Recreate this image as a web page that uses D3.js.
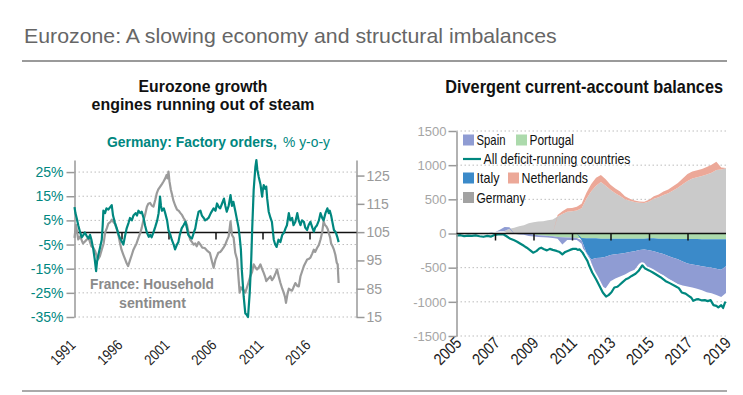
<!DOCTYPE html>
<html>
<head>
<meta charset="utf-8">
<script src="https://cdn.jsdelivr.net/npm/d3@7"></script>
<style>
  body { margin: 0; background: #fff; }
  svg { display: block; }
  text { font-family: "Liberation Sans", Arial, sans-serif; }
</style>
</head>
<body>
<svg id="chart" width="743" height="395"></svg>
<script>
// ---- left panel: Germany factory orders (% y-o-y) and France household sentiment
const FACTORY_ORDERS = [
  [1991.0, 10.5], [1991.1, 8], [1991.23, 6], [1991.4, 3], [1991.6, 0], [1991.77, -2], [1991.95, -1],
  [1992.1, 0], [1992.3, -1.5], [1992.5, -2.5], [1992.65, -1], [1992.8, -3], [1993.0, -7], [1993.15, -11],
  [1993.3, -16], [1993.4, -12], [1993.5, -10], [1993.7, -6.5], [1993.9, -3], [1994.0, 3], [1994.07, 9],
  [1994.25, 8], [1994.4, 10], [1994.6, 9.5], [1994.8, 10.5], [1994.96, 11.3], [1995.1, 7], [1995.3, 4],
  [1995.5, 1.7], [1995.7, -1], [1995.85, -2.5], [1996.0, -3.5], [1996.2, -5], [1996.4, -1], [1996.55, 1.7],
  [1996.75, 4], [1996.9, 6], [1997.1, 5], [1997.27, 7], [1997.5, 8], [1997.65, 7], [1997.8, 9], [1998.0, 8],
  [1998.15, 8.6], [1998.35, 6], [1998.5, 3], [1998.7, 0], [1998.9, -1.8], [1999.05, -1], [1999.2, -2],
  [1999.4, 0], [1999.6, 2.4], [1999.8, 5], [1999.95, 8], [2000.1, 14.8], [2000.2, 11], [2000.3, 9],
  [2000.5, 10], [2000.65, 8], [2000.85, 5], [2001.0, 1], [2001.2, -1], [2001.35, -3], [2001.55, -5],
  [2001.7, -7], [2001.9, -5], [2002.05, -4], [2002.2, -1], [2002.4, 1.7], [2002.6, 3], [2002.8, 4.4],
  [2002.95, 2], [2003.1, -1], [2003.3, -2], [2003.5, -2.5], [2003.7, 0], [2003.85, 1.7], [2004.0, 5],
  [2004.2, 8.6], [2004.4, 9], [2004.55, 7], [2004.75, 6], [2004.9, 5], [2005.1, 5.5], [2005.26, 6],
  [2005.5, 8], [2005.8, 10], [2006.0, 9], [2006.16, 12], [2006.35, 10.5], [2006.5, 10], [2006.7, 12],
  [2006.9, 14], [2007.05, 11], [2007.2, 8.6], [2007.4, 11], [2007.6, 15.5], [2007.75, 11], [2007.9, 12.7],
  [2008.1, 9], [2008.3, 5], [2008.45, 2], [2008.57, -1.8], [2008.7, -7], [2008.8, -15.5], [2009.0, -26.6],
  [2009.17, -33.5], [2009.3, -34], [2009.46, -35], [2009.64, -25], [2009.8, -11.4], [2009.9, 1],
  [2010.06, 17.5], [2010.24, 27], [2010.35, 30], [2010.45, 26], [2010.6, 23], [2010.78, 20], [2010.96, 14.8],
  [2011.05, 18], [2011.13, 19.6], [2011.3, 18], [2011.4, 19], [2011.5, 14], [2011.66, 8.6], [2011.85, 6],
  [2012.0, 4.4], [2012.2, -3], [2012.35, -5], [2012.5, -6], [2012.7, -3], [2012.9, -4], [2013.1, -1],
  [2013.3, 0], [2013.45, 1.7], [2013.6, 3], [2013.8, 8], [2013.95, 5], [2014.15, 6], [2014.3, 3],
  [2014.5, 4.4], [2014.7, 8], [2014.85, 5], [2015.04, 3], [2015.2, 5], [2015.4, 4.4], [2015.55, 2],
  [2015.75, 1], [2015.9, 3], [2016.1, 4.4], [2016.3, 2], [2016.46, 0.3], [2016.6, 2], [2016.8, 3],
  [2017.0, 5], [2017.17, 8], [2017.35, 6], [2017.5, 5], [2017.7, 8], [2017.9, 10], [2018.05, 8],
  [2018.16, 9], [2018.3, 7], [2018.4, 5], [2018.6, 1], [2018.8, 0], [2018.95, -1.8], [2019.1, -4]
];

const HOUSEHOLD_SENTIMENT = [
  [1991.0, 103], [1991.15, 107.6], [1991.4, 102.4], [1991.6, 103.5], [1991.9, 101], [1992.2, 102],
  [1992.5, 103], [1992.8, 100], [1993.0, 99.5], [1993.2, 98.2], [1993.5, 95.3], [1993.7, 96.5],
  [1993.9, 98.8], [1994.1, 101], [1994.25, 104.7], [1994.45, 106.5], [1994.6, 108], [1994.8, 108.5],
  [1994.96, 109.4], [1995.15, 108.5], [1995.3, 108], [1995.5, 106], [1995.67, 104], [1995.85, 101],
  [1996.0, 98.8], [1996.2, 97], [1996.4, 95.3], [1996.55, 94], [1996.7, 93], [1996.9, 95], [1997.1, 97],
  [1997.27, 98.8], [1997.45, 100], [1997.6, 101], [1997.8, 103], [1998.0, 104.7], [1998.15, 106.5],
  [1998.3, 108.8], [1998.5, 111], [1998.7, 114], [1998.85, 115], [1999.05, 115.3], [1999.2, 114.5],
  [1999.4, 114], [1999.6, 116.5], [1999.76, 118.8], [1999.9, 120], [2000.1, 121], [2000.3, 122],
  [2000.47, 122.9], [2000.65, 124], [2000.8, 125.2], [2000.9, 124], [2001.0, 126.4], [2001.1, 123],
  [2001.25, 120], [2001.4, 118], [2001.5, 116.4], [2001.7, 114.5], [2001.9, 113], [2002.1, 112.5],
  [2002.25, 111.8], [2002.45, 111], [2002.6, 110], [2002.8, 109], [2002.96, 107.6], [2003.15, 104.5],
  [2003.3, 102.4], [2003.5, 101.5], [2003.67, 100.6], [2003.85, 101], [2004.0, 100], [2004.2, 101.5],
  [2004.4, 100.6], [2004.6, 99.5], [2004.85, 99.4], [2005.1, 98.5], [2005.4, 97.7], [2005.6, 95],
  [2005.8, 92.4], [2006.0, 95.3], [2006.15, 96.5], [2006.3, 97.7], [2006.5, 98], [2006.7, 98.8],
  [2006.85, 99.5], [2007.04, 100.6], [2007.2, 102], [2007.4, 103.5], [2007.6, 108.8], [2007.75, 104],
  [2007.93, 103], [2008.1, 97.7], [2008.3, 95.3], [2008.46, 88.3], [2008.57, 83.6], [2008.7, 85.5],
  [2008.8, 84.8], [2009.0, 84.5], [2009.17, 83.6], [2009.35, 85.5], [2009.5, 87.1], [2009.7, 89.4],
  [2009.9, 91], [2010.06, 93.6], [2010.25, 92.5], [2010.42, 91.8], [2010.6, 92.5], [2010.78, 93.6],
  [2010.95, 92], [2011.13, 90.6], [2011.3, 89], [2011.4, 87.7], [2011.6, 88.5], [2011.85, 89.4],
  [2012.0, 88], [2012.2, 88.9], [2012.4, 90.5], [2012.55, 91.8], [2012.75, 89], [2012.9, 87.1],
  [2013.1, 85], [2013.26, 83.6], [2013.4, 82], [2013.5, 80], [2013.65, 83], [2013.8, 85], [2014.0, 84.5],
  [2014.15, 84.3], [2014.3, 85.5], [2014.5, 87], [2014.7, 86], [2014.86, 85.8], [2015.04, 89.4],
  [2015.2, 91], [2015.4, 93], [2015.55, 94], [2015.75, 95.3], [2015.9, 95.5], [2016.1, 96], [2016.3, 97.5],
  [2016.46, 98.8], [2016.6, 98], [2016.8, 99.4], [2017.0, 100.5], [2017.17, 102.4], [2017.35, 105],
  [2017.5, 108.8], [2017.65, 107.5], [2017.8, 107], [2017.95, 106], [2018.05, 104.7], [2018.2, 103],
  [2018.3, 101], [2018.45, 100], [2018.6, 98.8], [2018.75, 97], [2018.9, 94.2], [2019.0, 93.6],
  [2019.05, 90], [2019.1, 87]
];

const LEFT_TICKS = [25, 15, 5, -5, -15, -25, -35];
const RIGHT_TICKS = [125, 115, 105, 95, 85, 75];
const RIGHT_TICK_LABELS = ['125', '115', '105', '95', '85', '15'];
const LEFT_YEARS = [1991, 1996, 2001, 2006, 2011, 2016];

// ---- right panel: balances (EUR bn), quarterly from 2005
const CA_QUARTERS = d3.range(57).map(i => 2005 + i / 4);
const GERMANY = [0, 0, 0, 0, 0, 0, 0, 0, 5, 15, 35, 70, 85, 105, 120, 150, 165, 175, 180, 195, 205, 250, 285, 320,
  325, 335, 370, 510, 620, 700, 755, 700, 640, 590, 550, 500, 480, 460, 450, 445, 470, 510, 530, 565,
  590, 630, 670, 720, 770, 805, 825, 840, 865, 890, 930, 935, 955];
const NETHERLANDS = [0, 0, 0, 0, 0, 0, 0, 0, 0, 0, 0, 0, 0, 0, 0, 0, 0, 0, 0, 0, 0, 20, 40, 50,
  50, 55, 65, 85, 105, 115, 100, 95, 75, 70, 65, 45, 30, 22, 18, 20, 25, 35, 40, 50,
  55, 62, 70, 85, 100, 102, 100, 105, 110, 115, 120, 30, 5];
const PORTUGAL = [0, 0, 0, 0, 0, 0, 0, 0, 0, 0, 0, 0, 0, 0, 0, -5, -15, -25, -30, -35, -40, -50, -55, -60,
  -60, -65, -65, -70, -70, -70, -75, -75, -75, -75, -75, -75, -75, -75, -75, -75, -70, -70, -75, -75,
  -75, -80, -80, -80, -80, -80, -80, -85, -85, -85, -85, -85, -85];
const ITALY = [0, 0, 0, 0, 0, 0, 0, 0, 0, 0, 0, 0, 0, 0, 0, 0, 0, 0, 0, 0, 0, 0, 0, 0,
  0, 0, -35, -210, -310, -290, -280, -265, -240, -230, -220, -210, -195, -183, -165, -160, -175, -190, -205, -225,
  -255, -275, -298, -330, -360, -375, -385, -393, -405, -415, -430, -445, -395];
const SPAIN = [-5, -10, 5, -10, 5, -8, 0, 10, 15, 40, 60, 20, -5, -15, -20, -30, -30, -25, -25, -25, -25, -25, -105, -35,
  -35, -30, -50, -100, -120, -310, -415, -460, -385, -355, -335, -315, -290, -272, -200, -225, -265, -285, -300, -310,
  -330, -345, -362, -350, -335, -335, -345, -352, -370, -375, -385, -400, -390];

const ALL_DEFICIT = [
  [2005.0, -30], [2005.2, -25], [2005.4, -39], [2005.6, -30], [2005.8, -35], [2006.0, -28], [2006.2, -40],
  [2006.4, -48], [2006.6, -35], [2006.8, -45], [2007.0, -20], [2007.15, -15], [2007.3, -12], [2007.45, -15],
  [2007.6, -40], [2007.8, -78], [2008.0, -100], [2008.15, -120], [2008.3, -146], [2008.5, -180],
  [2008.65, -208], [2008.8, -240], [2008.98, -281], [2009.15, -258], [2009.3, -220], [2009.4, -208],
  [2009.55, -230], [2009.7, -247], [2009.85, -225], [2010.0, -240], [2010.2, -255], [2010.36, -272],
  [2010.5, -306], [2010.65, -270], [2010.9, -240], [2011.05, -225], [2011.2, -223], [2011.3, -240],
  [2011.4, -233], [2011.55, -280], [2011.65, -330], [2011.8, -400], [2011.9, -476], [2012.05, -570],
  [2012.25, -670], [2012.45, -780], [2012.6, -863], [2012.77, -922], [2012.9, -902], [2013.05, -860],
  [2013.2, -790], [2013.35, -780], [2013.45, -757], [2013.6, -720], [2013.8, -670], [2013.95, -650],
  [2014.1, -621], [2014.3, -590], [2014.45, -549], [2014.65, -466], [2014.8, -514], [2015.0, -540],
  [2015.2, -570], [2015.35, -597], [2015.6, -640], [2015.85, -694], [2016.1, -730], [2016.4, -776],
  [2016.55, -800], [2016.7, -863], [2016.9, -880], [2017.06, -912], [2017.2, -940], [2017.3, -985],
  [2017.45, -965], [2017.57, -961], [2017.75, -980], [2017.9, -975], [2018.05, -990], [2018.2, -975],
  [2018.35, -1048], [2018.5, -1060], [2018.6, -1082], [2018.75, -1050], [2018.85, -1090], [2018.95, -1009],
  [2019.0, -1020]
];

const CA_TICKS = [1500, 1000, 500, 0, -500, -1000, -1500];
const CA_YEARS = [2005, 2007, 2009, 2011, 2013, 2015, 2017, 2019];

const COUNTRY_KEYS = ['Germany', 'Netherlands', 'Portugal', 'Italy', 'Spain'];
const COUNTRY_COLORS = {
  Germany: '#cacaca',
  Netherlands: '#eca898',
  Portugal: '#acdaac',
  Italy: '#3b8ac9',
  Spain: '#8f9cd3'
};
const TEAL = '#00877f';

const svg = d3.select('#chart');

// condensed look: real text squeezed horizontally to the width it has in the reference
function squeezed(parent, str, x, y, width, size, opts = {}) {
  const t = parent.append('text')
    .attr('font-size', size)
    .attr('font-weight', opts.weight || 400)
    .attr('fill', opts.fill || '#111')
    .attr('text-anchor', opts.anchor || 'start')
    .text(str);
  if (opts.family) t.attr('font-family', opts.family);
  const natural = t.node().getComputedTextLength();
  t.attr('transform', `translate(${x},${y}) scale(${width / natural},1)`);
  return t;
}

// page title and rules
squeezed(svg, 'Eurozone: A slowing economy and structural imbalances', 24, 43, 533, 21,
  { weight: 300, fill: '#666', family: 'Roboto, "Liberation Sans", sans-serif' });

svg.append('line').attr('x1', 22).attr('x2', 727).attr('y1', 61).attr('y2', 61)
  .attr('stroke', '#9a9a9a').attr('stroke-width', 2);
svg.append('line').attr('x1', 22).attr('x2', 727).attr('y1', 391).attr('y2', 391)
  .attr('stroke', '#aaa').attr('stroke-width', 2);

function drawLeft() {
  const g = svg.append('g');
  const x = d3.scaleLinear([1991, 2021], [74.5, 356.5]);
  const y = d3.scaleLinear([-35, 30], [317, 160]);
  const yR = d3.scaleLinear([75, 130.5], [317, 160]);

  squeezed(g, 'Eurozone growth', 203, 91.5, 129, 16, { weight: 700, anchor: 'middle' });
  squeezed(g, 'engines running out of steam', 203, 110, 223, 16, { weight: 700, anchor: 'middle' });

  squeezed(g, 'Germany: Factory orders,', 107, 147, 170, 15, { weight: 700, fill: TEAL });
  squeezed(g, '% y-o-y', 283, 147, 47, 15, { fill: TEAL });

  // dotted grid
  g.append('g').selectAll('line').data(LEFT_TICKS).join('line')
    .attr('x1', x.range()[0]).attr('x2', x.range()[1])
    .attr('y1', d => y(d)).attr('y2', d => y(d))
    .attr('stroke', '#bdbdbd').attr('stroke-width', 1).attr('stroke-dasharray', '1.5,2.5');

  const leftAxis = g.append('g')
    .attr('transform', `translate(${x.range()[0]},0)`)
    .call(d3.axisLeft(y).tickValues(LEFT_TICKS).tickFormat(d => d + '%').tickSize(8).tickSizeOuter(0).tickPadding(3));
  leftAxis.selectAll('path, line').attr('stroke', '#999').attr('stroke-width', 1.5);
  leftAxis.selectAll('text').attr('fill', TEAL).attr('font-size', 14);
  leftAxis.attr('font-family', null);

  const rightAxis = g.append('g')
    .attr('transform', `translate(${x.range()[1]},0)`)
    .call(d3.axisRight(yR).tickValues(RIGHT_TICKS).tickFormat((d, i) => RIGHT_TICK_LABELS[i]).tickSize(8).tickSizeOuter(0).tickPadding(2));
  rightAxis.selectAll('path, line').attr('stroke', '#999').attr('stroke-width', 1.5);
  rightAxis.selectAll('text').attr('fill', '#9a9a9a').attr('font-size', 14);
  rightAxis.attr('font-family', null);

  // zero line with year ticks
  g.append('line').attr('x1', x.range()[0]).attr('x2', x.range()[1])
    .attr('y1', y(0)).attr('y2', y(0)).attr('stroke', '#111').attr('stroke-width', 1.5);
  g.append('g').attr('transform', `translate(0,${y(0)})`)
    .call(d3.axisBottom(x).tickValues(LEFT_YEARS.slice(1)).tickSize(7).tickFormat(''))
    .call(a => a.select('.domain').remove())
    .selectAll('line').attr('stroke', '#111').attr('stroke-width', 1.5);

  g.append('g').selectAll('text').data(LEFT_YEARS).join('text')
    .attr('transform', d => `translate(${x(d) + 2},346) rotate(-45) scale(0.85,1)`)
    .attr('text-anchor', 'end').attr('font-size', 15).attr('fill', '#222')
    .text(d => d);

  g.append('path').datum(HOUSEHOLD_SENTIMENT)
    .attr('fill', 'none').attr('stroke', '#9b9b9b').attr('stroke-width', 2.2).attr('stroke-linejoin', 'round')
    .attr('d', d3.line().x(d => x(d[0])).y(d => yR(d[1])));
  g.append('path').datum(FACTORY_ORDERS)
    .attr('fill', 'none').attr('stroke', TEAL).attr('stroke-width', 2.2).attr('stroke-linejoin', 'round')
    .attr('d', d3.line().x(d => x(d[0])).y(d => y(d[1])));

  squeezed(g, 'France: Household', 152, 289, 124, 15.5, { weight: 700, anchor: 'middle', fill: '#8a8a8a' });
  squeezed(g, 'sentiment', 152.5, 307.5, 67, 15.5, { weight: 700, anchor: 'middle', fill: '#8a8a8a' });
}

function drawRight() {
  const g = svg.append('g');
  const x = d3.scaleLinear([2005, 2019], [456.5, 726]);
  const y = d3.scaleLinear([-1500, 1500], [336, 131]);

  squeezed(g, 'Divergent current-account balances', 723, 92.5, 278, 17.5, { weight: 700, anchor: 'end' });

  g.append('g').selectAll('line').data(CA_TICKS.filter(d => d !== 0)).join('line')
    .attr('x1', x.range()[0]).attr('x2', x.range()[1])
    .attr('y1', d => y(d)).attr('y2', d => y(d))
    .attr('stroke', '#bdbdbd').attr('stroke-width', 1).attr('stroke-dasharray', '1.5,2.5');

  const rows = CA_QUARTERS.map((t, i) => ({
    t,
    Germany: GERMANY[i],
    Netherlands: NETHERLANDS[i],
    Portugal: PORTUGAL[i],
    Italy: ITALY[i],
    Spain: SPAIN[i]
  }));
  const series = d3.stack().keys(COUNTRY_KEYS).offset(d3.stackOffsetDiverging)(rows);
  const area = d3.area().x(d => x(d.data.t)).y0(d => y(d[0])).y1(d => y(d[1]));
  g.append('g').selectAll('path').data(series).join('path')
    .attr('fill', d => COUNTRY_COLORS[d.key])
    .attr('d', area);

  const deficitLine = d3.line().x(d => x(d[0])).y(d => y(d[1]));
  g.append('path').datum(ALL_DEFICIT)
    .attr('fill', 'none').attr('stroke', '#fff').attr('stroke-width', 6).attr('stroke-linejoin', 'round')
    .attr('d', deficitLine);
  g.append('path').datum(ALL_DEFICIT)
    .attr('fill', 'none').attr('stroke', TEAL).attr('stroke-width', 2.2).attr('stroke-linejoin', 'round')
    .attr('d', deficitLine);

  const yAxis = g.append('g')
    .attr('transform', `translate(${x.range()[0]},0)`)
    .call(d3.axisLeft(y).tickValues(CA_TICKS).tickFormat(d => String(d)).tickSize(8).tickSizeOuter(0).tickPadding(2));
  yAxis.selectAll('path, line').attr('stroke', '#999').attr('stroke-width', 1.5);
  yAxis.selectAll('text').attr('fill', '#a5a5a5').attr('font-size', 13);
  yAxis.attr('font-family', null);

  g.append('line').attr('x1', x.range()[0]).attr('x2', x.range()[1])
    .attr('y1', y(0)).attr('y2', y(0)).attr('stroke', '#111').attr('stroke-width', 1.5);
  g.append('g').attr('transform', `translate(0,${y(0)})`)
    .call(d3.axisBottom(x).tickValues(CA_YEARS.slice(1, -1)).tickSize(7).tickFormat(''))
    .call(a => a.select('.domain').remove())
    .selectAll('line').attr('stroke', '#111').attr('stroke-width', 1.5);

  g.append('g').selectAll('text').data(CA_YEARS).join('text')
    .attr('transform', d => `translate(${x(d) + 6},344) rotate(-45) scale(0.85,1)`)
    .attr('text-anchor', 'end').attr('font-size', 16.5).attr('fill', '#222')
    .text(d => d);

  // legend
  const legend = g.append('g');
  const items = [
    { key: 'Spain', color: COUNTRY_COLORS.Spain, x: 463, y: 140, w: 29 },
    { key: 'Portugal', color: COUNTRY_COLORS.Portugal, x: 516, y: 140, w: 44.5 },
    { key: 'Italy', color: COUNTRY_COLORS.Italy, x: 463, y: 178, w: 23 },
    { key: 'Netherlands', color: COUNTRY_COLORS.Netherlands, x: 508, y: 178, w: 66.5 },
    { key: 'Germany', color: '#a2a2a2', x: 463, y: 197.5, w: 49 }
  ];
  items.forEach(it => {
    legend.append('rect').attr('x', it.x).attr('y', it.y - 5.5).attr('width', 11).attr('height', 11).attr('fill', it.color);
    squeezed(legend, it.key, it.x + 13.5, it.y + 5, it.w, 14);
  });
  legend.append('line').attr('x1', 463).attr('x2', 481).attr('y1', 159).attr('y2', 159)
    .attr('stroke', TEAL).attr('stroke-width', 2.2);
  squeezed(legend, 'All deficit-running countries', 483.5, 164, 147, 14);
}

drawLeft();
drawRight();
</script>
</body>
</html>
